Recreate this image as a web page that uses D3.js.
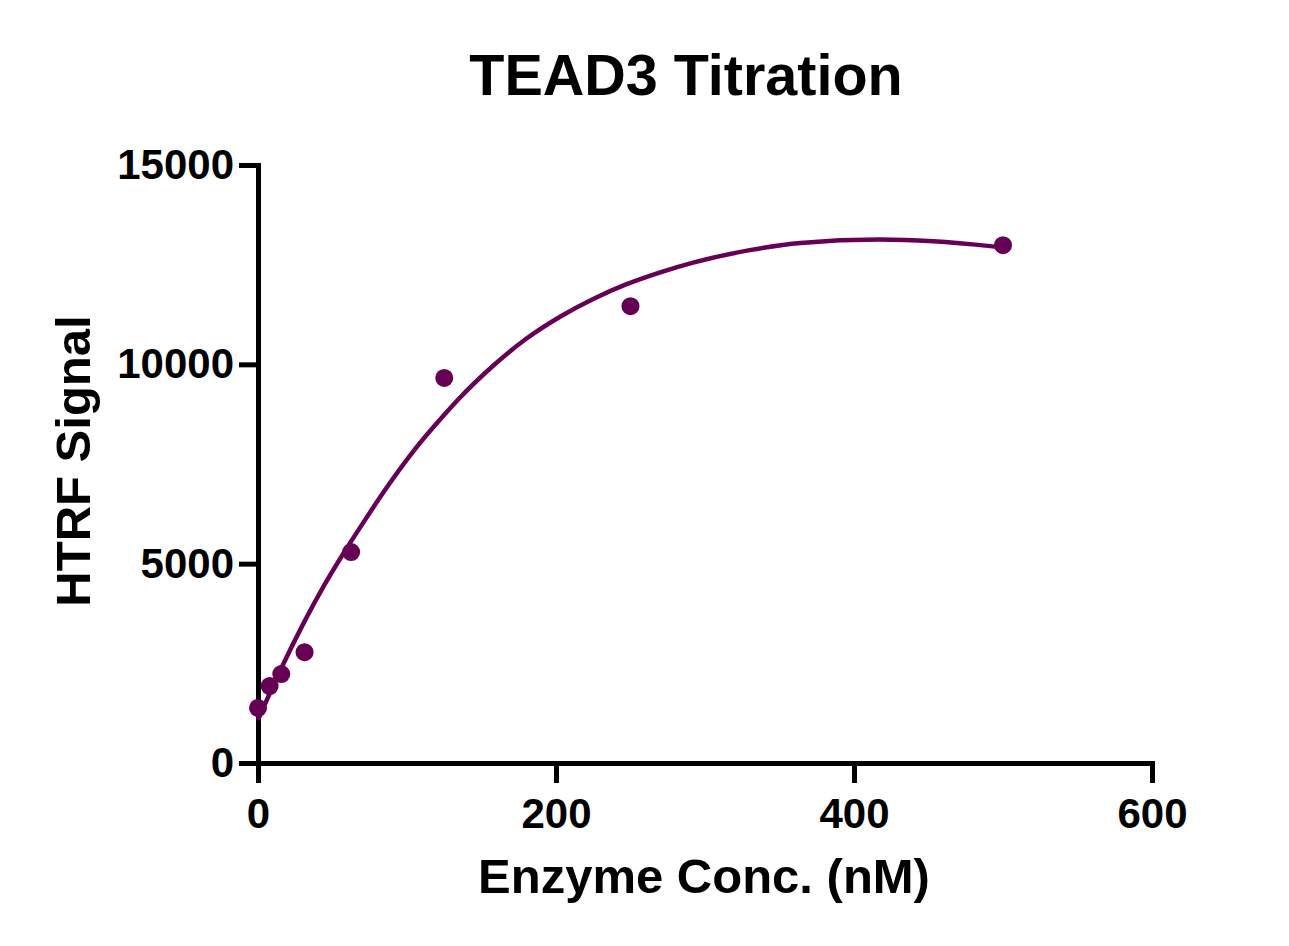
<!DOCTYPE html>
<html>
<head>
<meta charset="utf-8">
<script src="https://cdn.jsdelivr.net/npm/d3@7"></script>
<style>
  body { margin: 0; background: #fff; }
  svg text { font-family: "Liberation Sans", Arial, sans-serif; font-weight: bold; fill: #000; }
</style>
</head>
<body>
<svg id="chart" width="1289" height="946"></svg>
<script>
// measured points
const conc = [0, 7.8, 15.6, 31.25, 62.5, 125, 250, 500];
const signal = [1380, 1930, 2230, 2780, 5290, 9660, 11460, 12990];

// fitted curve
const fitX = [0, 15, 30, 44, 57, 71, 85, 105, 125, 135, 158, 180, 203, 225, 247, 270, 292, 330, 364, 417, 453, 493, 500];
const fitY = [1080, 2325, 3465, 4431, 5237, 6049, 6833, 7853, 8733, 9143, 9971, 10642, 11201, 11641, 12004, 12308, 12550, 12865, 13045, 13130, 13087, 12959, 12931];

const xTicks = [0, 200, 400, 600];
const yTicks = [0, 5000, 10000, 15000];

const purple = '#660055';
const svg = d3.select('#chart');

const x = d3.scaleLinear().domain([0, 600]).range([258, 1152]);
const y = d3.scaleLinear().domain([0, 15000]).range([763, 165]);

// title
svg.append('text')
  .attr('x', 686).attr('y', 95)
  .attr('text-anchor', 'middle')
  .style('font-size', '57.5px')
  .text('TEAD3 Titration');

// axes
const xAxis = svg.append('g')
  .attr('transform', 'translate(0,763)')
  .call(d3.axisBottom(x).tickValues(xTicks).tickFormat(d3.format('d'))
    .tickSize(20).tickSizeOuter(0).tickPadding(15));

const yAxis = svg.append('g')
  .attr('transform', 'translate(258,0)')
  .call(d3.axisLeft(y).tickValues(yTicks).tickFormat(d3.format('d'))
    .tickSize(19).tickSizeOuter(0).tickPadding(5));

[xAxis, yAxis].forEach(g => {
  g.selectAll('path.domain').attr('stroke', '#000').attr('stroke-width', 5).attr('stroke-linecap', 'square');
  g.selectAll('.tick line').attr('stroke', '#000').attr('stroke-width', 5);
  g.selectAll('.tick text')
    .style('font-size', '42px')
    .style('font-family', '"Liberation Sans", Arial, sans-serif')
    .style('font-weight', 'bold')
    .attr('fill', '#000');
});

// axis titles
svg.append('text')
  .attr('x', 704).attr('y', 893)
  .attr('text-anchor', 'middle')
  .style('font-size', '49px')
  .text('Enzyme Conc. (nM)');

svg.append('text')
  .attr('transform', 'translate(90,461) rotate(-90)')
  .attr('text-anchor', 'middle')
  .style('font-size', '49px')
  .text('HTRF Signal');

// curve
const line = d3.line()
  .x((d, i) => x(fitX[i]))
  .y(d => y(d))
  .curve(d3.curveMonotoneX);

svg.append('path')
  .datum(fitY)
  .attr('d', line)
  .attr('fill', 'none')
  .attr('stroke', purple)
  .attr('stroke-width', 4.5);

// dots
svg.selectAll('circle.pt')
  .data(signal)
  .join('circle')
  .attr('class', 'pt')
  .attr('cx', (d, i) => x(conc[i]))
  .attr('cy', d => y(d))
  .attr('r', 9)
  .attr('fill', purple);
</script>
</body>
</html>
